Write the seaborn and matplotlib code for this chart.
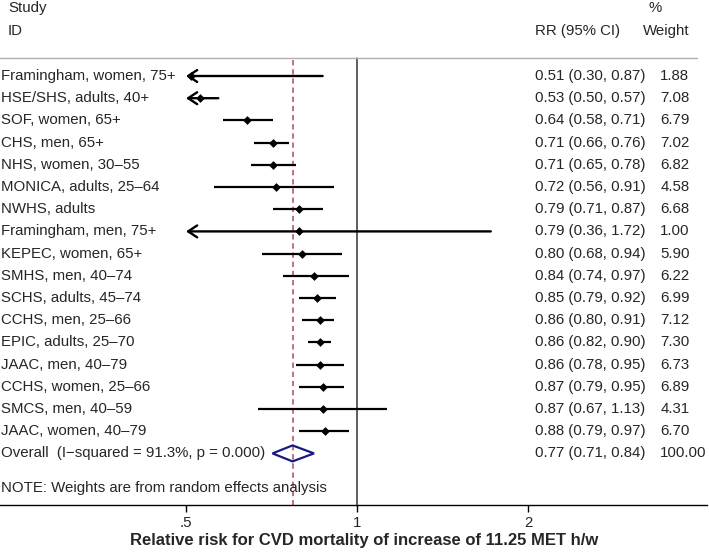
import numpy as np
import pandas as pd
import seaborn as sns
import matplotlib.pyplot as plt

# study estimates
studies = ['Framingham, women, 75+', 'HSE/SHS, adults, 40+', 'SOF, women, 65+', 'CHS, men, 65+',
           'NHS, women, 30\u201355', 'MONICA, adults, 25\u201364', 'NWHS, adults', 'Framingham, men, 75+',
           'KEPEC, women, 65+', 'SMHS, men, 40\u201374', 'SCHS, adults, 45\u201374', 'CCHS, men, 25\u201366',
           'EPIC, adults, 25\u201370', 'JAAC, men, 40\u201379', 'CCHS, women, 25\u201366', 'SMCS, men, 40\u201359',
           'JAAC, women, 40\u201379']
rr = [0.51, 0.53, 0.64, 0.71, 0.71, 0.72, 0.79, 0.79, 0.80, 0.84, 0.85, 0.86, 0.86, 0.86, 0.87, 0.87, 0.88]
lo = [0.30, 0.50, 0.58, 0.66, 0.65, 0.56, 0.71, 0.36, 0.68, 0.74, 0.79, 0.80, 0.82, 0.78, 0.79, 0.67, 0.79]
hi = [0.87, 0.57, 0.71, 0.76, 0.78, 0.91, 0.87, 1.72, 0.94, 0.97, 0.92, 0.91, 0.90, 0.95, 0.95, 1.13, 0.97]
weights = [1.88, 7.08, 6.79, 7.02, 6.82, 4.58, 6.68, 1.00, 5.90, 6.22, 6.99, 7.12, 7.30, 6.73, 6.89, 4.31, 6.70]

overall_label = 'Overall  (I\u2212squared = 91.3%, p = 0.000)'
overall_rr, overall_lo, overall_hi, overall_w = 0.77, 0.71, 0.84, 100.00
xmin_clip = 0.5

df = pd.DataFrame({'study': studies, 'rr': rr, 'lo': lo, 'hi': hi, 'w': weights})
df['row'] = np.arange(len(df))
n = len(df)

#%%
sns.set_theme(style='white')
plt.rcParams['font.family'] = ['Liberation Sans', 'DejaVu Sans']
fs = 10.8

W, H = 709, 555
x_one, per_dbl = 357, 171   # pixel of RR=1, pixels per doubling
row0, row_h = 76, 22.2      # pixel of first row, row spacing

def prow(py):
    return (py - row0) / row_h

fig = plt.figure(figsize=(W / 100, H / 100), dpi=100)
ax = fig.add_axes([0, (H - 505) / H, 707 / W, 505 / H])
ax.set_xscale('log', base=2)
ax.set_xlim(2 ** (-x_one / per_dbl), 2 ** ((707 - x_one) / per_dbl))
top_row = prow(0)
bot_row = prow(505)
ax.set_ylim(bot_row, top_row)

for s in ['top', 'right', 'left']:
    ax.spines[s].set_visible(False)
ax.spines['bottom'].set_color('black')
ax.spines['bottom'].set_linewidth(1.0)

# reference lines
line_top = prow(58)
ax.plot([1, 1], [line_top, bot_row], color='#333333', lw=1.1, zorder=1)
ax.plot([overall_rr, overall_rr], [line_top + 0.1, bot_row], color='#a8505c', lw=1.1,
        dashes=(3.5, 2.5), zorder=1)
ax.axhline(line_top, xmin=0, xmax=697 / 707, color='#b0b0b0', lw=1.0)

# confidence intervals
for _, r in df.iterrows():
    if r.lo <= xmin_clip:
        ax.annotate('', xy=(xmin_clip, r.row), xytext=(r.hi, r.row),
                    arrowprops=dict(arrowstyle='->,head_length=0.5,head_width=0.33', lw=1.7,
                                    color='black', mutation_scale=13, shrinkA=0, shrinkB=0))
    else:
        ax.plot([r.lo, r.hi], [r.row, r.row], color='black', lw=1.6, solid_capstyle='butt')

sns.scatterplot(data=df, x='rr', y='row', marker='D', s=20, color='black', edgecolor='black',
                linewidth=0, ax=ax, zorder=3, legend=False)

# overall diamond
ax.fill([overall_lo, overall_rr, overall_hi, overall_rr, overall_lo],
        [n, n - 0.36, n, n + 0.36, n], facecolor='none', edgecolor='#1a1a80', lw=1.6, zorder=3)

# text columns
x_left = 1 / W
x_rr = 537 / W
x_w = 662 / W
tr = ax.get_yaxis_transform()
for _, r in df.iterrows():
    ax.text(x_left, r.row, r.study, transform=tr, fontsize=fs, va='center', ha='left')
    ax.text(x_rr, r.row, f'{r.rr:.2f} ({r.lo:.2f}, {r.hi:.2f})', transform=tr, fontsize=fs,
            va='center', ha='left')
    ax.text(x_w, r.row, f'{r.w:.2f}', transform=tr, fontsize=fs, va='center', ha='left')
ax.text(x_left, n, overall_label, transform=tr, fontsize=fs, va='center', ha='left')
ax.text(x_rr, n, f'{overall_rr:.2f} ({overall_lo:.2f}, {overall_hi:.2f})', transform=tr,
        fontsize=fs, va='center', ha='left')
ax.text(x_w, n, f'{overall_w:.2f}', transform=tr, fontsize=fs, va='center', ha='left')
ax.text(x_left, prow(488), 'NOTE: Weights are from random effects analysis', transform=tr,
        fontsize=fs, va='center', ha='left')

# headers
ax.text(8 / W, prow(8), 'Study', transform=tr, fontsize=fs, va='center', ha='left')
ax.text(8 / W, prow(31), 'ID', transform=tr, fontsize=fs, va='center', ha='left')
ax.text(x_rr, prow(31), 'RR (95% CI)', transform=tr, fontsize=fs, va='center', ha='left')
ax.text(650 / W, prow(8), '%', transform=tr, fontsize=fs, va='center', ha='left')
ax.text(645 / W, prow(31), 'Weight', transform=tr, fontsize=fs, va='center', ha='left')

# x axis
ax.set_xticks([0.5, 1, 2])
ax.set_xticklabels(['.5', '1', '2'])
ax.minorticks_off()
ax.tick_params(axis='x', direction='out', length=5, width=1, color='black', pad=3, labelsize=fs,
               bottom=True)
ax.set_yticks([])
ax.set_ylabel('')
ax.set_xlabel('Relative risk for CVD mortality of increase of 11.25 MET h/w', fontsize=12,
              fontweight='bold')
ax.xaxis.set_label_coords(364 / 707, -35 / 505)
ax.xaxis.label.set_va('center')
ax.grid(False)

fig.savefig('out.png', dpi=100)
